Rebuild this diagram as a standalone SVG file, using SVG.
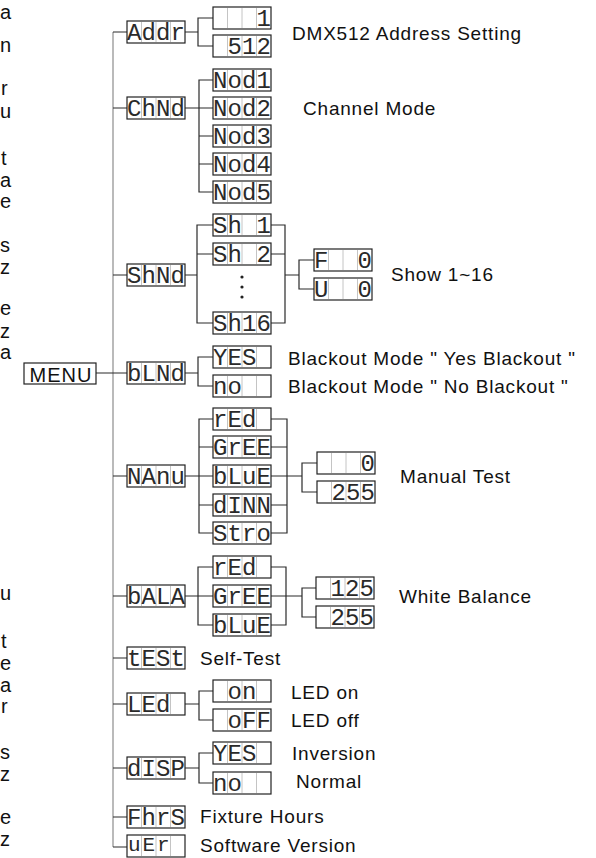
<svg xmlns="http://www.w3.org/2000/svg" xmlns:xlink="http://www.w3.org/1999/xlink" width="596" height="858" viewBox="0 0 596 858">
<style>
.lbl{font-family:"Liberation Sans",Arial,sans-serif;font-size:19px;letter-spacing:0.8px;fill:#111}
.frag{font-family:"Liberation Sans",Arial,sans-serif;font-size:20px;fill:#111}
.seg{font-family:"Liberation Mono","DejaVu Sans Mono",monospace;font-size:24px;fill:#2a2a2a;text-anchor:middle}
.con{fill:none;stroke:#2a2a2a;stroke-width:1.2}
.main{fill:none;stroke:#8c8c8c;stroke-width:1.2}
</style>
<defs>
<g id="d4"><rect x="0" y="0" width="58" height="22" fill="#fff" stroke="#222" stroke-width="1.2"/><path d="M14.5,1V21M29,1V21M43.5,1V21" stroke="#c4c4c4" stroke-width="1"/></g>
</defs>
<rect width="596" height="858" fill="#fff"/>

<g id="fragments" class="frag">
<text x="0" y="19">a</text><text x="0" y="52">n</text><text x="1" y="95">r</text><text x="0" y="118">u</text>
<text x="1" y="165">t</text><text x="0" y="187">a</text><text x="0" y="208">e</text><text x="0" y="252">s</text>
<text x="0" y="274">z</text><text x="0" y="315">e</text><text x="0" y="338">z</text><text x="0" y="359">a</text>
<text x="0" y="600">u</text><text x="1" y="648">t</text><text x="0" y="670">e</text><text x="0" y="692">a</text>
<text x="1" y="713">r</text><text x="0" y="759">s</text><text x="0" y="781">z</text><text x="0" y="824">e</text><text x="0" y="846">z</text>
</g>

<g id="connectors">
<path class="main" d="M113,32V847"/>
<path class="con" d="M96,373H113M113,32H127M113,108H127M113,275H127M113,373H127M113,476H127M113,596H127M113,658H127M113,704H127M113,768H127M113,817H127M113,847H127"/>
<path class="con" d="M185,32H198M213,18H198V46H213"/>
<path class="con" d="M185,108H213M213,80H199V192H213M199,136H213M199,164H213"/>
<path class="con" d="M185,275H197M213,225H197V323H213M197,254H213M271,225H285V323H271M271,254H285M285,275H299M314,260H299V289H314"/>
<path class="con" d="M185,373H198M213,357H198V386H213"/>
<path class="con" d="M185,476H213M213,419H199V533H213M199,447H213M199,505H213M271,419H287V533H271M271,447H287M271,476H302M271,505H287M317,463H302V492H317"/>
<path class="con" d="M185,596H213M213,567H198V625H213M271,567H286V625H271M271,596H302M316,588H302V617H316"/>
<path class="con" d="M185,704H199M213,691H199V720H213"/>
<path class="con" d="M185,768H199M213,753H199V783H213"/>
</g>

<g id="menu"><rect x="24" y="363" width="72" height="21" fill="#fff" stroke="#222" stroke-width="1.2"/><text x="61" y="382" class="lbl" text-anchor="middle" style="font-size:20px;letter-spacing:1px">MENU</text></g>

<g id="addr"><use xlink:href="#d4" x="127" y="21"/><text class="seg" x="134.25 148.75 163.25 177.75" y="40">Addr</text></g>
<g id="addr-1"><use xlink:href="#d4" x="213" y="7"/><text class="seg" x="263.75" y="26">1</text></g>
<g id="addr-512"><use xlink:href="#d4" x="213" y="35"/><text class="seg" x="234.75 249.25 263.75" y="54">512</text></g>
<text class="lbl" x="292" y="40">DMX512 Address Setting</text>

<g id="chnd"><use xlink:href="#d4" x="127" y="97"/><text class="seg" x="134.25 148.75 163.25 177.75" y="116">ChNd</text></g>
<g id="nod1"><use xlink:href="#d4" x="213" y="69"/><text class="seg" x="220.25 234.75 249.25 263.75" y="88">Nod1</text></g>
<g id="nod2"><use xlink:href="#d4" x="213" y="97"/><text class="seg" x="220.25 234.75 249.25 263.75" y="116">Nod2</text></g>
<g id="nod3"><use xlink:href="#d4" x="213" y="125"/><text class="seg" x="220.25 234.75 249.25 263.75" y="144">Nod3</text></g>
<g id="nod4"><use xlink:href="#d4" x="213" y="153"/><text class="seg" x="220.25 234.75 249.25 263.75" y="172">Nod4</text></g>
<g id="nod5"><use xlink:href="#d4" x="213" y="181"/><text class="seg" x="220.25 234.75 249.25 263.75" y="200">Nod5</text></g>
<text class="lbl" x="303" y="115">Channel Mode</text>

<g id="shnd"><use xlink:href="#d4" x="127" y="264"/><text class="seg" x="134.25 148.75 163.25 177.75" y="283">ShNd</text></g>
<g id="sh1"><use xlink:href="#d4" x="213" y="214"/><text class="seg" x="220.25 234.75 263.75" y="233">Sh1</text></g>
<g id="sh2"><use xlink:href="#d4" x="213" y="243"/><text class="seg" x="220.25 234.75 263.75" y="262">Sh2</text></g>
<g id="dots" fill="#222"><circle cx="242" cy="277" r="1.6"/><circle cx="242" cy="287" r="1.6"/><circle cx="242" cy="297" r="1.6"/></g>
<g id="sh16"><use xlink:href="#d4" x="213" y="312"/><text class="seg" x="220.25 234.75 249.25 263.75" y="331">Sh16</text></g>
<g id="show-f"><use xlink:href="#d4" x="314" y="249"/><text class="seg" x="321.25 364.75" y="268">F0</text></g>
<g id="show-u"><use xlink:href="#d4" x="314" y="278"/><text class="seg" x="321.25 364.75" y="297">U0</text></g>
<text class="lbl" x="391" y="281">Show 1~16</text>

<g id="blnd"><use xlink:href="#d4" x="127" y="362"/><text class="seg" x="134.25 148.75 163.25 177.75" y="381">bLNd</text></g>
<g id="bl-yes"><use xlink:href="#d4" x="213" y="346"/><text class="seg" x="220.25 234.75 249.25" y="365">YES</text></g>
<g id="bl-no"><use xlink:href="#d4" x="213" y="375"/><text class="seg" x="220.25 234.75" y="394">no</text></g>
<text class="lbl" x="288" y="365">Blackout Mode " Yes Blackout "</text>
<text class="lbl" x="288" y="393">Blackout Mode " No Blackout "</text>

<g id="nanu"><use xlink:href="#d4" x="127" y="465"/><text class="seg" x="134.25 148.75 163.25 177.75" y="484">NAnu</text></g>
<g id="m-red"><use xlink:href="#d4" x="213" y="408"/><text class="seg" x="220.25 234.75 249.25" y="427">rEd</text></g>
<g id="m-gree"><use xlink:href="#d4" x="213" y="436"/><text class="seg" x="220.25 234.75 249.25 263.75" y="455">GrEE</text></g>
<g id="m-blue"><use xlink:href="#d4" x="213" y="465"/><text class="seg" x="220.25 234.75 249.25 263.75" y="484">bLuE</text></g>
<g id="m-dimm"><use xlink:href="#d4" x="213" y="494"/><text class="seg" x="220.25 234.75 249.25 263.75" y="513">dINN</text></g>
<g id="m-stro"><use xlink:href="#d4" x="213" y="522"/><text class="seg" x="220.25 234.75 249.25 263.75" y="541">Stro</text></g>
<g id="m-0"><use xlink:href="#d4" x="317" y="452"/><text class="seg" x="367.75" y="471">0</text></g>
<g id="m-255"><use xlink:href="#d4" x="317" y="481"/><text class="seg" x="338.75 353.25 367.75" y="500">255</text></g>
<text class="lbl" x="400" y="483">Manual Test</text>

<g id="bala"><use xlink:href="#d4" x="127" y="585"/><text class="seg" x="134.25 148.75 163.25 177.75" y="604">bALA</text></g>
<g id="w-red"><use xlink:href="#d4" x="213" y="556"/><text class="seg" x="220.25 234.75 249.25" y="575">rEd</text></g>
<g id="w-gree"><use xlink:href="#d4" x="213" y="585"/><text class="seg" x="220.25 234.75 249.25 263.75" y="604">GrEE</text></g>
<g id="w-blue"><use xlink:href="#d4" x="213" y="614"/><text class="seg" x="220.25 234.75 249.25 263.75" y="633">bLuE</text></g>
<g id="w-125"><use xlink:href="#d4" x="316" y="577"/><text class="seg" x="337.75 352.25 366.75" y="596">125</text></g>
<g id="w-255"><use xlink:href="#d4" x="316" y="606"/><text class="seg" x="337.75 352.25 366.75" y="625">255</text></g>
<text class="lbl" x="399" y="603">White Balance</text>

<g id="test"><use xlink:href="#d4" x="127" y="647"/><text class="seg" x="134.25 148.75 163.25 177.75" y="666">tESt</text></g>
<text class="lbl" x="200" y="665">Self-Test</text>

<g id="led"><use xlink:href="#d4" x="127" y="693"/><text class="seg" x="134.25 148.75 163.25" y="712">LEd</text></g>
<g id="led-on"><use xlink:href="#d4" x="213" y="680"/><text class="seg" x="234.75 249.25" y="699">on</text></g>
<g id="led-off"><use xlink:href="#d4" x="213" y="709"/><text class="seg" x="234.75 249.25 263.75" y="728">oFF</text></g>
<text class="lbl" x="291" y="699">LED on</text>
<text class="lbl" x="291" y="727">LED off</text>

<g id="disp"><use xlink:href="#d4" x="127" y="757"/><text class="seg" x="134.25 148.75 163.25 177.75" y="776">dISP</text></g>
<g id="d-yes"><use xlink:href="#d4" x="213" y="742"/><text class="seg" x="220.25 234.75 249.25" y="761">YES</text></g>
<g id="d-no"><use xlink:href="#d4" x="213" y="772"/><text class="seg" x="220.25 234.75" y="791">no</text></g>
<text class="lbl" x="292" y="760">Inversion</text>
<text class="lbl" x="296" y="788">Normal</text>

<g id="fhrs"><use xlink:href="#d4" x="127" y="806"/><text class="seg" x="134.25 148.75 163.25 177.75" y="825">FhrS</text></g>
<text class="lbl" x="200" y="823">Fixture Hours</text>

<g id="uer"><use xlink:href="#d4" x="127" y="835"/><text class="seg" x="134.25 148.75 163.25" y="851" style="font-size:21px">uEr</text></g>
<text class="lbl" x="200" y="852">Software Version</text>
</svg>
